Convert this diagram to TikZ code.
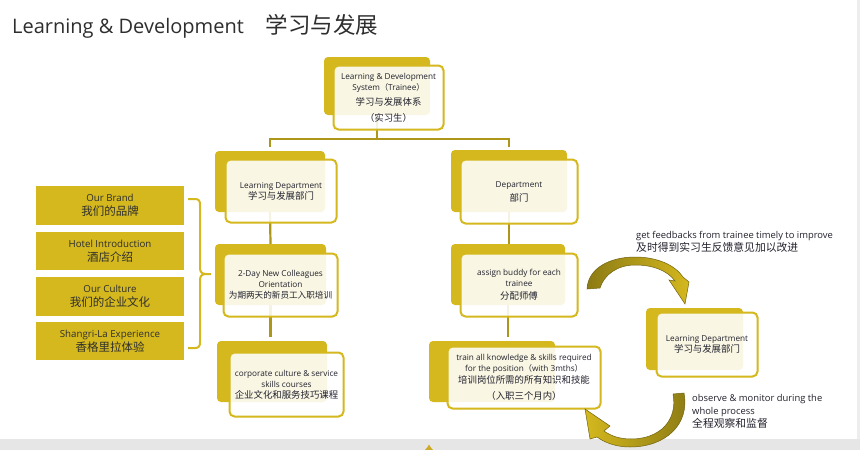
\documentclass[tikz,border=0pt]{standalone}
\usepackage{fontspec}
\setmainfont{Open Sans}
\newfontfamily\cjk{Noto Sans CJK SC}
\definecolor{gold}{HTML}{D4B81E}
\definecolor{linec}{HTML}{AD9618}
\definecolor{olivec}{HTML}{8C7B14}
\definecolor{txtc}{HTML}{22222E}
\definecolor{titlec}{HTML}{2E2E2E}
\definecolor{barc}{HTML}{E6E6E6}
\newcommand{\zh}[1]{{\cjk #1}}
\newcommand{\zhs}[1]{{\cjk\fontsize{9.4}{11}\selectfont #1}}
\newcommand{\zhm}[1]{{\cjk\fontsize{11.5}{14}\selectfont #1}}
\newcommand{\zhl}[1]{{\cjk\fontsize{10.8}{13}\selectfont #1}}
\begin{document}
\begin{tikzpicture}[x=1pt,y=-1pt,
  backbox/.style={fill=gold, rounded corners=4pt, inner sep=0pt},
  frontbox/.style={draw=gold, line width=2pt, fill=white, fill opacity=0.88, text opacity=1,
    rounded corners=5pt, inner sep=0pt, align=center, text=txtc,
    font=\fontsize{8.2}{11}\selectfont},
  sidebox/.style={fill=gold, inner sep=0pt, minimum width=148pt, align=center, text=titlec,
    font=\fontsize{9.7}{14}\selectfont},
  conn/.style={draw=linec, line width=2.2pt},
  bracec/.style={draw=gold, line width=2pt},
  label/.style={anchor=north west, align=left, text=txtc, font=\fontsize{9.4}{13}\selectfont, inner sep=0pt},
  curv/.style={draw=olivec!80!black, line width=0.5pt}
]
\useasboundingbox (0,0) rectangle (860,450);
\fill[white] (0,0) rectangle (860,450);
\fill[barc] (0,439) rectangle (860,450);
\fill[barc!70!white] (857,0) rectangle (860,439);
\fill[gold!75!brown] (425,450) -- (427.5,447) -- (429,444.5) -- (430.5,447) -- (433,450) -- cycle;

% title
\node[anchor=base west, inner sep=0pt, text=titlec, font=\fontsize{20}{24}\selectfont] (title) at (12,33)
  {Learning \& Development\hspace{1.1em}{\cjk\fontsize{22.5}{24}\selectfont 学习与发展}};

% back boxes
\node[backbox, minimum width=106pt, minimum height=58pt] (topb) at (377,86) {};
\node[backbox, minimum width=110pt, minimum height=61pt] (ldb) at (270,181.5) {};
\node[backbox, minimum width=111pt, minimum height=61pt] (dayb) at (270.5,274.5) {};
\node[backbox, minimum width=110pt, minimum height=61pt] (corpb) at (272,371.5) {};
\node[backbox, minimum width=116pt, minimum height=62pt] (deptb) at (509,181) {};
\node[backbox, minimum width=114pt, minimum height=61pt] (assignb) at (508,274.5) {};
\node[backbox, minimum width=126pt, minimum height=61pt] (trainb) at (492,371.5) {};
\node[backbox, minimum width=97pt, minimum height=62pt] (rldb) at (694.5,339) {};

% connectors
\coordinate (jT) at (377,139);
\draw[conn] (topb.south) -- (jT);
\draw[conn, shorten >=4pt] (jT) -| (ldb.north);
\draw[conn, shorten >=3pt] (jT) -| (deptb.north);
\draw[conn] (ldb.south) -- (dayb.north);
\draw[conn, shorten >=4pt] (dayb.south) -- (dayb.south |- corpb.north);
\draw[conn] (deptb.south) -- (deptb.south |- assignb.north);
\draw[conn, shorten >=4pt] (assignb.south) -- (assignb.south |- trainb.north);

% front boxes
\node[frontbox, minimum width=110pt, minimum height=64pt] (top) at (388.5,97.5)
  {Learning \& Development\\System\zh{（}Trainee\zh{）}\\[4pt]\zhs{学习与发展体系}\\[5pt]\zhs{（实习生）}};
\node[frontbox, minimum width=111pt, minimum height=63pt] (ld) at (281,191)
  {Learning Department\\\zhs{学习与发展部门}};
\node[frontbox, minimum width=114pt, minimum height=63pt] (day) at (280.5,285)
  {2-Day New Colleagues\\Orientation\\{\cjk\fontsize{8.6}{11}\selectfont 为期两天的新员工入职培训}};
\node[frontbox, minimum width=114pt, minimum height=64pt] (corp) at (286.5,384.5)
  {corporate culture \& service\\skills courses\\\zhs{企业文化和服务技巧课程}};
\node[frontbox, minimum width=117pt, minimum height=64pt] (dept) at (519,191.5)
  {Department\\[3pt]\zhs{部门}};
\node[frontbox, minimum width=117pt, minimum height=63pt] (assign) at (519,285)
  {assign buddy for each\\trainee\\[2pt]\zhs{分配师傅}};
\node[frontbox, minimum width=153pt, minimum height=62pt] (train) at (524,377.5)
  {train all knowledge \& skills required\\for the position\zh{（}with 3mths\zh{）}\\[1pt]\zhs{培训岗位所需的所有知识和技能}\\[5pt]\zhs{（入职三个月内）}};
\node[frontbox, minimum width=101pt, minimum height=64pt] (rld) at (707,344.5)
  {Learning Department\\\zhs{学习与发展部门}};

% side boxes
\node[sidebox, minimum height=39pt] (s1) at (110,205.5) {Our Brand\\\zhm{我们的品牌}};
\node[sidebox, minimum height=38pt] (s2) at (110,251) {Hotel Introduction\\\zhm{酒店介绍}};
\node[sidebox, minimum height=39pt] (s3) at (110,296.5) {Our Culture\\\zhm{我们的企业文化}};
\node[sidebox, minimum height=38pt] (s4) at (110,341) {Shangri-La Experience\\\zhm{香格里拉体验}};

% brace
\draw[bracec] (188,199) -- (195,199) .. controls (199,199) and (200,201) .. (200,205) -- (200,268)
  .. controls (200,272) and (202,274) .. (206,274) -- (211,274);
\draw[bracec] (206,274) .. controls (202,274) and (200,276) .. (200,280) -- (200,342)
  .. controls (200,346) and (199,348) .. (195,348) -- (188,348);

% curved arrows
\shadedraw[curv, left color=olivec, right color=gold]
  (587,289) .. controls (588,268) and (610,257) .. (635,257)
  .. controls (657,257) and (675,265) .. (683,277) -- (689,282) -- (685,304) -- (669,280) -- (675,281)
  .. controls (667,270) and (652,265) .. (635,265)
  .. controls (617,265) and (604,275) .. (600,288) -- cycle;
\shadedraw[curv, left color=gold, right color=olivec]
  (684,393) .. controls (690,425) and (665,447) .. (630,447)
  .. controls (615,447) and (604,442) .. (597,437) -- (590,439) -- (585,409) -- (610,426) -- (604,431)
  .. controls (611,436) and (620,439) .. (631,439)
  .. controls (660,439) and (678,420) .. (673,394) -- cycle;

% labels
\node[label] (fb) at (636,231) {get feedbacks from trainee timely to improve\\\zhl{及时得到实习生反馈意见加以改进}};
\node[label] (obs) at (692,394) {observe \& monitor during the\\whole process\\\zhl{全程观察和监督}};
\end{tikzpicture}
\end{document}
